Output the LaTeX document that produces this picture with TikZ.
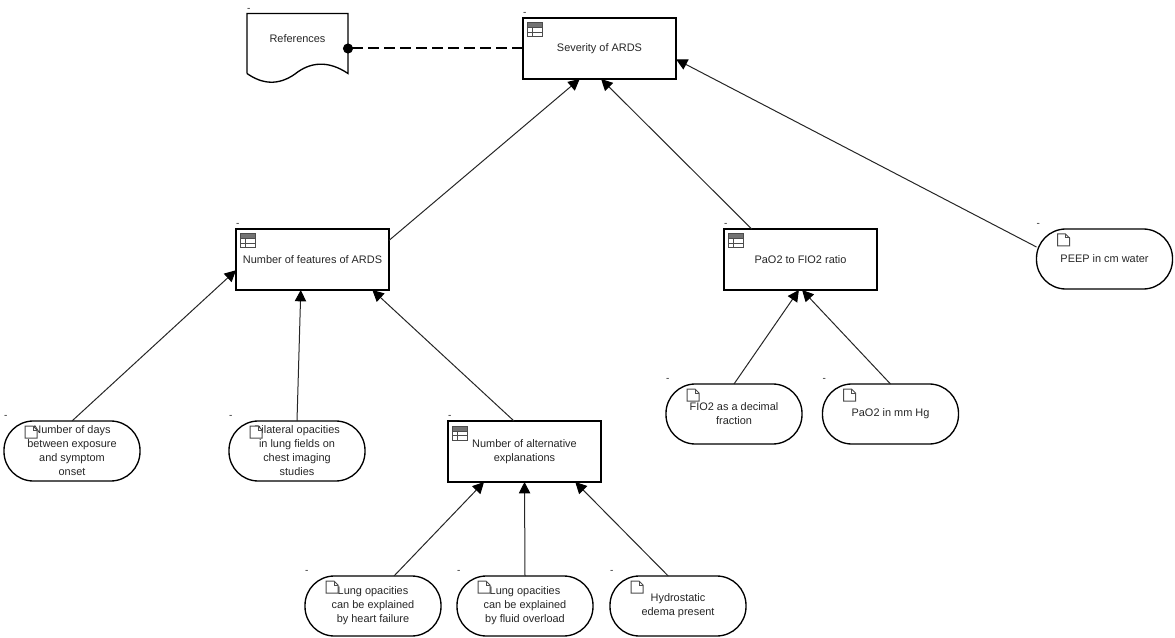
\documentclass[tikz,border=0pt]{standalone}
\usepackage{fontspec}
\setmainfont{Liberation Sans}
\usetikzlibrary{arrows.meta}
\tikzset{
    dashmark/.style={inner sep=0pt, outer sep=0pt, anchor=south west, yshift=1.6pt, text=black!85, font=\fontsize{7.5}{9}\selectfont},
    basebox/.style={draw, line width=1pt, fill=white, outer sep=0pt, inner sep=0pt, align=center, text=black!85, font=\fontsize{8.2}{10.5}\selectfont, label={[dashmark]north west:-}},
    tablebox/.style={basebox, minimum width=114.75pt, minimum height=45.75pt},
    inputbox/.style={basebox, minimum width=102pt, minimum height=45pt, rounded corners=22pt},
    docbox/.style={outer sep=0pt, inner sep=0pt, minimum width=75.75pt, minimum height=52.5pt},
    infline/.style={draw=black!85, line width=0.75pt, -{Triangle[length=8.5pt,width=8.5pt,color=black]}},
    refline/.style={line width=1.5pt, dash pattern=on 8.25pt off 3.75pt, {Circle[length=7.5pt,width=7.5pt]}-, shorten <=-3.75pt},
    tableicon/.pic={
        \fill[black!55] (0,0) rectangle (15,5);
        \draw[black!70, line width=0.75pt] (0,0) rectangle (15,14);
        \draw[black!70, line width=0.75pt] (0,5) -- (15,5) (0,9.5) -- (15,9.5) (5,5) -- (5,14);
    },
    docicon/.pic={
        \draw[black!70, fill=white, line width=0.75pt] (0,0) -- (8,0) -- (12,4) -- (12,12) -- (0,12) -- cycle;
        \draw[black!70, line width=0.75pt] (8,0) -- (8,4) -- (12,4);
    }
}
\begin{document}
\begin{tikzpicture}[x=0.75pt, y=-0.75pt]
    \useasboundingbox (0,0) rectangle (1175,638);

    % decision nodes
    \node[tablebox] (severity) at (599.5,48.5) {Severity of ARDS};
    \node[tablebox] (features) at (312.5,259.5) {Number of features of ARDS};
    \node[tablebox] (ratio) at (800.5,259.5) {PaO2 to FIO2 ratio};
    \node[tablebox] (alternatives) at (524.5,451.5) {Number of alternative\\explanations};

    % input nodes
    \node[inputbox] (peep) at (1104.5,259) {PEEP in cm water};
    \node[inputbox] (days) at (72,451) {Number of days\\between exposure\\and symptom\\onset};
    \node[inputbox] (bilateral) at (297,451) {Bilateral opacities\\in lung fields on\\chest imaging\\studies};
    \node[inputbox] (heart) at (373,606) {Lung opacities\\can be explained\\by heart failure};
    \node[inputbox] (fluid) at (525,606) {Lung opacities\\can be explained\\by fluid overload};
    \node[inputbox] (edema) at (678,606) {Hydrostatic\\edema present};
    \node[inputbox] (fio) at (734,414) {FIO2 as a decimal\\fraction};
    \node[inputbox] (pao) at (890.5,414) {PaO2 in mm Hg};

    % knowledge source
    \node[docbox, label={[text=black!85, font=\fontsize{8.2}{10.5}\selectfont, yshift=7.5pt]center:References}, label={[dashmark]north west:-}] (refs) at (297.5,48.5) {};
    \draw[line width=1pt] ([yshift=7.5pt]refs.south west) -- (refs.north west) -- (refs.north east) -- ([yshift=7.5pt]refs.south east)
        .. controls (328,60) and (310,62) .. (295,74) .. controls (278,86) and (262,84) .. ([yshift=7.5pt]refs.south west);

    \draw[refline] (refs.east) -- (severity.west);

    \draw[infline] (features.14.3) -- (severity.237.4);
    \draw[infline] (ratio.148.9) -- (severity.273.75);
    \draw[infline] (peep.170.7) -- (severity.352.2);
    \draw[infline] (days.north) -- (features.188.5);
    \draw[infline] (bilateral.north) -- (features.249.3);
    \draw[infline] (alternatives.109) -- (features.333.2);
    \draw[infline] (heart.55) -- (alternatives.217);
    \draw[infline] (fluid.north) -- (alternatives.south);
    \draw[infline] (edema.108.4) -- (alternatives.329.4);
    \draw[infline] (fio.north) -- (ratio.267);
    \draw[infline] (pao.north) -- (ratio.273);

    % icons
    \pic at ([shift={(4,5)}]severity.north west) {tableicon};
    \pic at ([shift={(4,5)}]features.north west) {tableicon};
    \pic at ([shift={(4,5)}]ratio.north west) {tableicon};
    \pic at ([shift={(4,5)}]alternatives.north west) {tableicon};
    \pic at ([shift={(21,5)}]peep.north west) {docicon};
    \pic at ([shift={(21,5)}]days.north west) {docicon};
    \pic at ([shift={(21,5)}]bilateral.north west) {docicon};
    \pic at ([shift={(21,5)}]heart.north west) {docicon};
    \pic at ([shift={(21,5)}]fluid.north west) {docicon};
    \pic at ([shift={(21,5)}]edema.north west) {docicon};
    \pic at ([shift={(21,5)}]fio.north west) {docicon};
    \pic at ([shift={(21,5)}]pao.north west) {docicon};
\end{tikzpicture}
\end{document}
